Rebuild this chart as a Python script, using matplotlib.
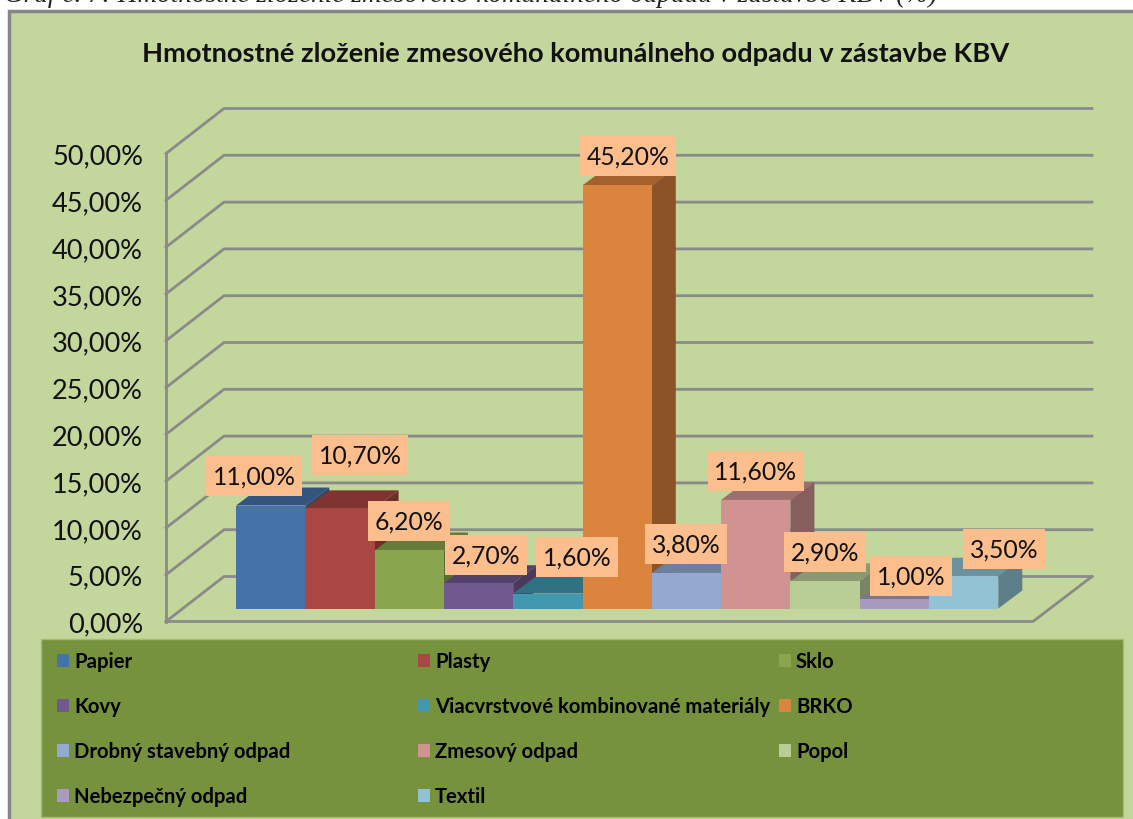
import matplotlib
matplotlib.use("Agg")
import matplotlib.pyplot as plt
from matplotlib.patches import Polygon, Rectangle

categories = ["Papier", "Plasty", "Sklo", "Kovy", "Viacvrstvové kombinované materiály", "BRKO",
              "Drobný stavebný odpad", "Zmesový odpad", "Popol", "Nebezpečný odpad", "Textil"]
values = [11.0, 10.7, 6.2, 2.7, 1.6, 45.2, 3.8, 11.6, 2.9, 1.0, 3.5]
front_colors = ["#4572A7", "#AA4643", "#89A54E", "#71588F", "#4198AF", "#DB843D",
                "#93A9CF", "#D19392", "#B9CD96", "#A99BBD", "#92C3D4"]
top_colors = ["#33557D", "#7F3432", "#667B3A", "#54416B", "#307183", "#A3622D",
              "#6E7E9B", "#9C6E6D", "#8A9970", "#7E748D", "#6D929F"]
side_colors = ["#2C4A6D", "#6F2D2C", "#5A6C33", "#4A395D", "#2A6272", "#8B5327",
               "#5F6D86", "#875F5F", "#788562", "#6D647A", "#5E7E8A"]
y_ticks = [0, 5, 10, 15, 20, 25, 30, 35, 40, 45, 50]
y_labels = ["0,00%", "5,00%", "10,00%", "15,00%", "20,00%", "25,00%",
            "30,00%", "35,00%", "40,00%", "45,00%", "50,00%"]
value_labels = ["11,00%", "10,70%", "6,20%", "2,70%", "1,60%", "45,20%",
                "3,80%", "11,60%", "2,90%", "1,00%", "3,50%"]

W, H = 1133, 820
plt.rcParams["font.family"] = ["Lato", "DejaVu Sans"]

fig = plt.figure(figsize=(W / 100, H / 100), dpi=100, facecolor="white")

# whole picture in pixel coordinates for frame, caption and legend
bg = fig.add_axes([0, 0, 1, 1])
bg.set_xlim(0, W)
bg.set_ylim(H, 0)
bg.axis("off")
bg.add_patch(Rectangle((9, 11.5), 1300, 900, fc="#C3D69B", ec="#868686", lw=2.5))
bg.text(4, -5, "Graf č. 7: Hmotnostné zloženie zmesového komunálneho odpadu v zástavbe KBV (%)",
        family="Liberation Serif", style="italic", fontsize=19.6, va="center", color="#222222")
bg.text(576, 54, "Hmotnostné zloženie zmesového komunálneho odpadu v zástavbe KBV",
        ha="center", va="center", fontsize=19.6, fontweight="bold", color="#111111")

# legend box
bg.add_patch(Rectangle((41, 640), 1081.5, 178, fc="#76923C", ec="#A5BC72", lw=1))
legend_cols = [57, 418, 779]
legend_rows = [661, 706, 751, 796]
for i, name in enumerate(categories):
    lx = legend_cols[i % 3]
    ly = legend_rows[i // 3]
    bg.add_patch(Rectangle((lx, ly - 6.5), 12, 13, fc=front_colors[i], ec="none"))
    bg.text(lx + 17, ly + 1.5, name, va="center", fontsize=14.6, fontweight="bold", color="black")

# plot axes: front plane of the 3d box, value 0 at the floor front edge
left, right, bottom, top = 166, 1033, 622.5, 154.5
ax = fig.add_axes([left / W, 1 - bottom / H, (right - left) / W, (bottom - top) / H])
ax.patch.set_visible(False)
ax.set_xlim(left, right)
ax.set_ylim(0, 50)
for s in ax.spines.values():
    s.set_visible(False)
ax.set_xticks([])
ax.set_yticks(y_ticks)
ax.set_yticklabels(y_labels, fontsize=19.5, color="#111111")
ax.tick_params(axis="y", length=0, pad=16.5)

px_per_unit = (bottom - top) / 50
box_dx = 58
box_dy = 45 / px_per_unit
grid_color = "#8A8A8A"

# walls
for t in y_ticks:
    ax.plot([left, left + box_dx, 1092], [t, t + box_dy, t + box_dy], color=grid_color, lw=2, clip_on=False, zorder=1)
ax.plot([left, left], [0, 50], color=grid_color, lw=2, clip_on=False, zorder=1)
ax.plot([left, right, 1092], [0, 0, box_dy], color=grid_color, lw=2, clip_on=False, zorder=1)

# bars
bar_left = 236
bar_width = 69.3
base = 13 / px_per_unit
bar_dx = 24
bar_dy = 18 / px_per_unit
for i, v in enumerate(values):
    x0 = bar_left + i * bar_width
    x1 = x0 + bar_width
    y1 = base + v
    z = 3 + i * 0.1
    ax.add_patch(Polygon([(x0, y1), (x0 + bar_dx, y1 + bar_dy), (x1 + bar_dx, y1 + bar_dy), (x1, y1)],
                         fc=top_colors[i], ec="none", clip_on=False, zorder=z))
    ax.add_patch(Polygon([(x1, base), (x1 + bar_dx, base + bar_dy), (x1 + bar_dx, y1 + bar_dy), (x1, y1)],
                         fc=side_colors[i], ec="none", clip_on=False, zorder=z))
    ax.bar(x0, v, width=bar_width, bottom=base, align="edge", color=front_colors[i], clip_on=False, zorder=z + 0.05)

# data labels sit on top of the bars, hand placed like in the original
label_centers = [(254, 477), (360, 456), (409, 522), (486, 556), (577, 558), (628, 157),
                 (686, 545), (756, 472), (825, 553), (911, 577), (1004, 550)]
over = fig.add_axes([0, 0, 1, 1])
over.set_xlim(0, W)
over.set_ylim(H, 0)
over.axis("off")
for (lx, ly), label in zip(label_centers, value_labels):
    box_w = 96 if len(label) == 6 else 82
    over.add_patch(Rectangle((lx - box_w / 2, ly - 20), box_w, 40, fc="#FBBE8C", ec="none"))
    over.text(lx, ly, label, ha="center", va="center", fontsize=17.8, color="#111111")

fig.savefig("out.png", dpi=100)
